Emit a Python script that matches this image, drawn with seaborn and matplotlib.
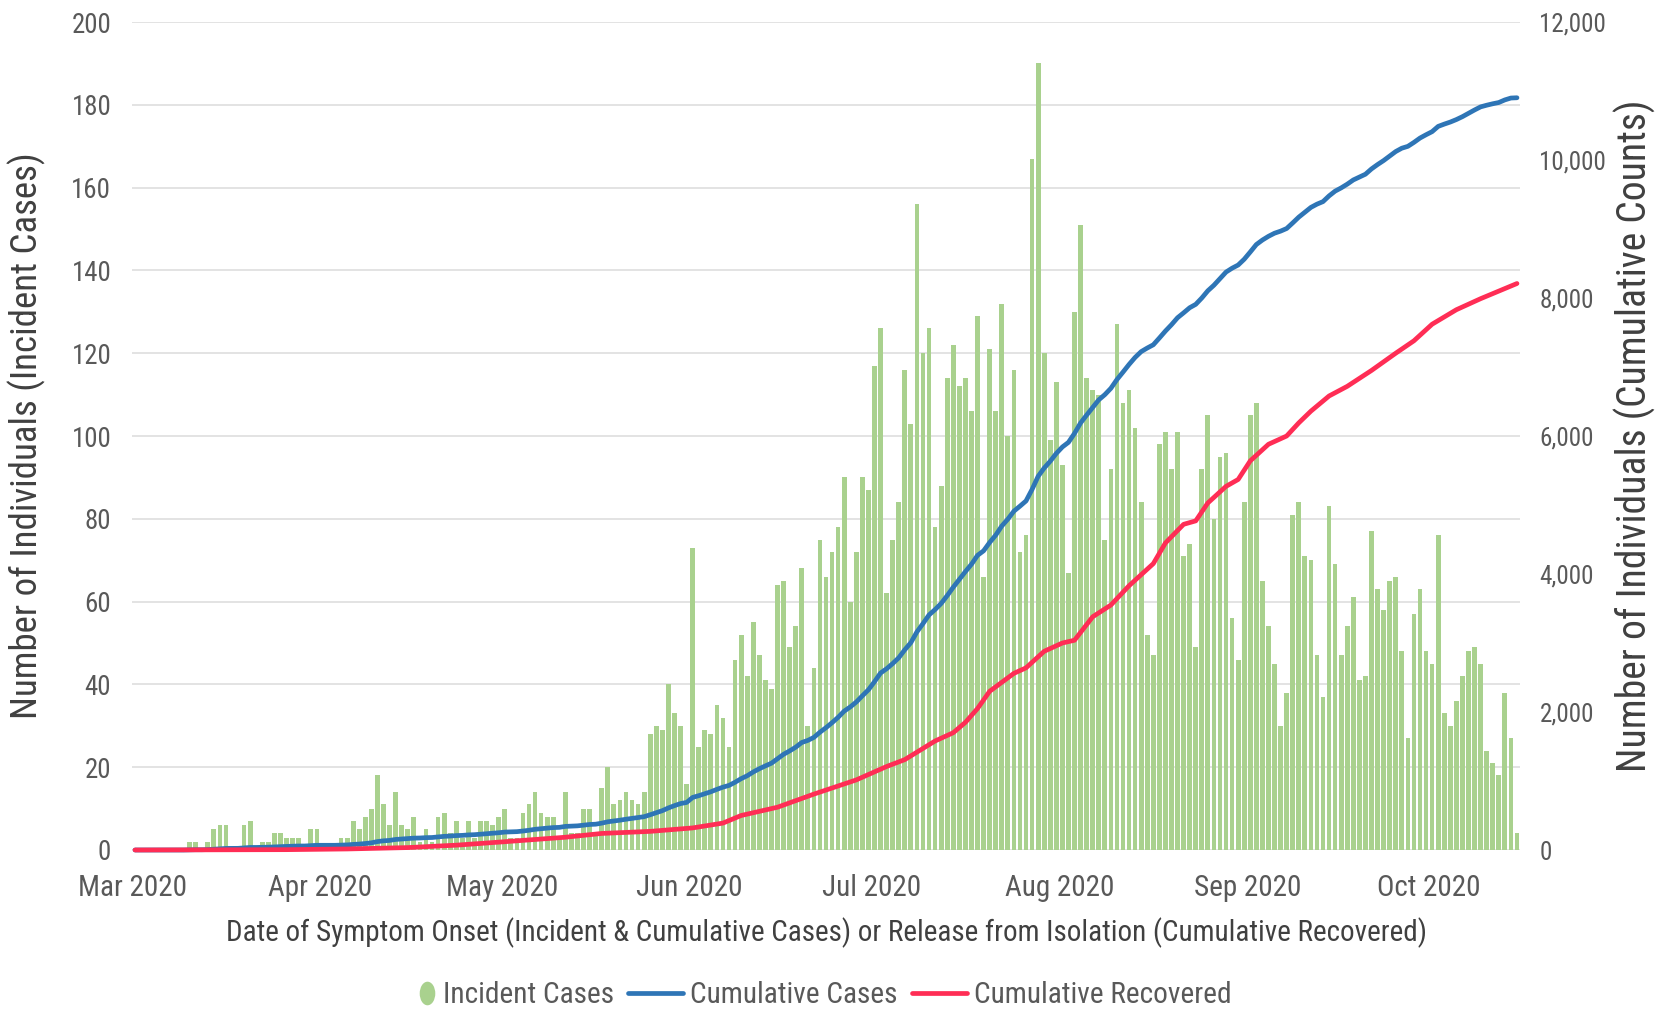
import numpy as np
import pandas as pd
import matplotlib
matplotlib.use("Agg")
import matplotlib.pyplot as plt
import matplotlib.dates as mdates
from matplotlib import font_manager as fm
from matplotlib.lines import Line2D
from matplotlib.markers import MarkerStyle
from matplotlib.transforms import Affine2D
from matplotlib.ticker import FuncFormatter
from matplotlib.legend_handler import HandlerBase
import seaborn as sns

# ---------------- data ----------------
START_DATE = "2020-03-01"

# daily incident cases, 2020-03-01 .. 2020-10-15
incident_mar = [0, 0, 0, 0, 0, 0, 0, 0, 0, 2, 2, 0, 2, 5, 6, 6, 0, 1, 6, 7, 0, 2,
                2, 4, 4, 3, 3, 3, 0, 5, 5]
incident_apr = [0, 0, 0, 3, 3, 7, 5, 8, 10, 18, 11, 6, 14, 6, 5, 8, 2, 5, 2, 8,
                9, 4, 7, 3, 7, 3, 7, 7, 6, 8]
incident_may = [10, 3, 3, 9, 11, 14, 9, 8, 8, 3, 14, 4, 4, 10, 10, 4, 15, 20, 11, 12,
                14, 12, 11, 14, 28, 30, 29, 40, 33, 30, 16]
incident_jun = [73, 25, 29, 28, 35, 32, 25, 46, 52, 42, 55, 47, 41, 39, 64, 65, 49, 54,
                68, 30, 44, 75, 66, 72, 78, 90, 60, 72, 90, 87]
incident_jul = [117, 126, 62, 75, 84, 116, 103, 156, 120, 126, 78, 88, 114, 122, 112,
                114, 106, 129, 66, 121, 106, 132, 100, 116, 72, 76, 167, 190, 120, 99, 113]
incident_aug = [93, 67, 130, 151, 114, 111, 110, 75, 92, 127, 108, 111, 102, 84, 52, 47,
                98, 101, 92, 101, 71, 74, 49, 92, 105, 80, 95, 96, 56, 46, 84]
incident_sep = [105, 108, 65, 54, 45, 30, 38, 81, 84, 71, 70, 47, 37, 83, 69, 47, 54,
                61, 41, 42, 77, 63, 58, 65, 66, 48, 27, 57, 63, 48]
incident_oct = [45, 76, 33, 30, 36, 42, 48, 49, 45, 24, 21, 18, 38, 27, 4]

# cumulative recovered (day offset from START_DATE, count)
recovered_day = [0, 25, 35, 45, 53, 61, 71, 77, 85, 92, 97, 100, 106, 112, 119, 124,
                 127, 132, 135, 137, 139, 141, 145, 147, 150, 153, 155, 158, 161, 164,
                 168, 170, 173, 175, 177, 180, 182, 184, 187, 190, 192, 194, 197, 200,
                 204, 208, 211, 214, 218, 222, 225, 228]
recovered_total = [0, 5, 15, 35, 70, 120, 185, 240, 270, 320, 390, 500, 620, 810, 1016,
                   1210, 1310, 1580, 1700, 1850, 2050, 2300, 2560, 2640, 2880, 3000,
                   3040, 3380, 3550, 3830, 4150, 4450, 4720, 4770, 5030, 5270, 5370,
                   5640, 5880, 6000, 6190, 6360, 6580, 6720, 6950, 7200, 7380, 7620,
                   7830, 7990, 8100, 8210]

left_ticks = [0, 20, 40, 60, 80, 100, 120, 140, 160, 180, 200]
right_ticks = [0, 2000, 4000, 6000, 8000, 10000, 12000]
month_starts = ["2020-03-01", "2020-04-01", "2020-05-01", "2020-06-01",
                "2020-07-01", "2020-08-01", "2020-09-01", "2020-10-01"]
END_DATE = "2020-10-16"

series_names = ["Incident Cases", "Cumulative Cases", "Cumulative Recovered"]
x_title = ("Date of Symptom Onset (Incident & Cumulative Cases) or Release from "
           "Isolation (Cumulative Recovered)")
y_left_title = "Number of Individuals (Incident Cases)"
y_right_title = "Number of Individuals (Cumulative Counts)"

GREEN, BLUE, RED = "#a9d18e", "#2e75b6", "#ff2d55"
TICK_C, TITLE_C = "#595959", "#404040"

# ---------------- style ----------------
sns.set_theme(style="white")
entries = fm.fontManager.ttflist
names = {f.name for f in entries}

FAMILY, STRETCH = None, "normal"
for cand in ["Liberation Sans Narrow", "Arial Narrow", "Roboto Condensed",
             "Open Sans Condensed", "DejaVu Sans Condensed", "Noto Sans Condensed"]:
    if cand in names:
        FAMILY = cand
        break
if FAMILY is None:
    for f in entries:
        if str(f.stretch) in ("condensed", "semi-condensed") and \
                any(k in f.name for k in ("Sans", "Roboto", "Lato", "Inter")) and \
                "Mono" not in f.name and str(f.style) == "normal" and \
                str(f.weight) in ("400", "normal"):
            FAMILY, STRETCH = f.name, str(f.stretch)
            break
if FAMILY is None:
    FAMILY = "Liberation Sans" if "Liberation Sans" in names else "DejaVu Sans"

plt.rcParams["font.family"] = [FAMILY, "DejaVu Sans"]
plt.rcParams["font.stretch"] = STRETCH

W, H = 1659, 1011
fig = plt.figure(figsize=(W / 100, H / 100), dpi=100)
L, R, B, T = 132 / W, 1520 / W, 1 - 850 / H, 1 - 22 / H
ax = fig.add_axes([L, B, R - L, T - B])
renderer = fig.canvas.get_renderer()


def size_for(text, target_w, base=20.0):
    t = fig.text(0, 0, text, fontsize=base)
    w = t.get_window_extent(renderer).width
    t.remove()
    return base * target_w / w


# ---------------- data frames ----------------
incident = (incident_mar + incident_apr + incident_may + incident_jun +
            incident_jul + incident_aug + incident_sep + incident_oct)
dates = pd.date_range(START_DATE, periods=len(incident), freq="D")
df = pd.DataFrame({"x": mdates.date2num(dates) + 0.5, "incident": incident})
df["cumulative"] = df["incident"].cumsum()

rec_dates = pd.to_datetime(START_DATE) + pd.to_timedelta(recovered_day, unit="D")
rec = pd.DataFrame({"x": mdates.date2num(rec_dates) + 0.5, "recovered": recovered_total})

# ---------------- bars ----------------
sns.barplot(data=df, x="x", y="incident", native_scale=True, color=GREEN,
            saturation=1, width=0.78, errorbar=None, linewidth=0, ax=ax)

ax.set_axisbelow(True)
ax.yaxis.grid(True, color="#e3e3e3", linewidth=1.4)
ax.xaxis.grid(False)
x0 = mdates.date2num(pd.Timestamp(START_DATE))
x1 = mdates.date2num(pd.Timestamp(END_DATE))
ax.set_xlim(x0, x1)
ax.set_ylim(0, 200)
ax.set_yticks(left_ticks)
mt = pd.to_datetime(month_starts)
ax.set_xticks(mdates.date2num(mt))
ax.set_xticklabels([d.strftime("%b %Y") for d in mt])
ax.set_xlabel("")
ax.set_ylabel("")
for s in ax.spines.values():
    s.set_visible(False)

# ---------------- lines ----------------
ax2 = ax.twinx()
sns.lineplot(data=df, x="x", y="cumulative", color=BLUE, linewidth=3.4, ax=ax2)
sns.lineplot(data=rec, x="x", y="recovered", color=RED, linewidth=3.4, ax=ax2)
for ln in ax2.lines:
    ln.set_clip_on(False)
    ln.set_solid_joinstyle("round")
ax2.set_xlim(x0, x1)
ax2.set_ylim(0, 12000)
ax2.set_yticks(right_ticks)
ax2.yaxis.set_major_formatter(FuncFormatter(lambda v, p: f"{int(v):,}"))
ax2.set_xlabel("")
ax2.set_ylabel("")
ax2.grid(False)
for s in ax2.spines.values():
    s.set_visible(False)

# ---------------- ticks ----------------
xt_fs = size_for("Mar 2020", 109)
yt_fs = size_for("200", 40)
rt_fs = size_for("12,000", 67)
ax.tick_params(axis="x", length=0, pad=17, labelsize=xt_fs, labelcolor=TICK_C)
ax.tick_params(axis="y", length=0, pad=15, labelsize=yt_fs, labelcolor=TICK_C)
ax2.tick_params(axis="y", length=0, pad=14, labelsize=rt_fs, labelcolor=TICK_C)

# ---------------- titles ----------------
fig.text(826 / W, 1 - 933 / H, x_title, ha="center", va="center",
         fontsize=size_for(x_title, 1198), color=TITLE_C)
fig.text(27 / W, 1 - 436 / H, y_left_title, ha="center", va="center", rotation=90,
         fontsize=size_for(y_left_title, 566), color=TITLE_C)
fig.text(1635 / W, 1 - 436 / H, y_right_title, ha="center", va="center", rotation=90,
         fontsize=size_for(y_right_title, 672), color=TITLE_C)

# ---------------- legend ----------------
ELLIPSE = MarkerStyle("o", transform=Affine2D().scale(0.66, 1.0))
MS = 17.0


class EndMarker(HandlerBase):
    def create_artists(self, legend, orig, xd, yd, w, h, fs, trans):
        m = Line2D([w - xd - 0.33 * MS - 1.0], [0.5 * h - yd], linestyle="none",
                   marker=ELLIPSE, markersize=MS, markerfacecolor=GREEN,
                   markeredgewidth=0, transform=trans)
        return [m]


leg_fs = size_for(series_names[2], 257)
h_inc = Line2D([], [], linestyle="none", marker=ELLIPSE, markersize=MS,
               markerfacecolor=GREEN, markeredgewidth=0)
h_cum = Line2D([], [], color=BLUE, linewidth=3.4)
h_rec = Line2D([], [], color=RED, linewidth=3.4)
leg = fig.legend([h_inc, h_cum, h_rec], series_names, loc="center",
                 bbox_to_anchor=(806 / W, 1 - 995 / H), ncol=3, frameon=False,
                 fontsize=leg_fs, handlelength=40 / leg_fs,
                 handletextpad=5 / leg_fs, columnspacing=10 / leg_fs,
                 borderaxespad=0, borderpad=0, handler_map={h_inc: EndMarker()})
for t in leg.get_texts():
    t.set_color(TICK_C)

fig.savefig("out.png", dpi=100)
